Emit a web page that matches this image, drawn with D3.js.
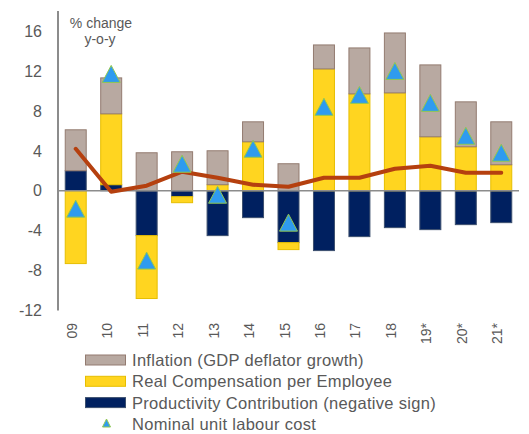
<!DOCTYPE html>
<html>
<head>
<meta charset="utf-8">
<script src="https://cdn.jsdelivr.net/npm/d3@7"></script>
<style>
  body { margin: 0; background: #fff; }
  svg { display: block; font-family: 'Liberation Sans', Arial, sans-serif; }
</style>
</head>
<body>
<div id="chart"></div>
<script>
const years = ['09', '10', '11', '12', '13', '14', '15', '16', '17', '18', '19*', '20*', '21*']
const productivity = [2.0, 0.6, -4.5, -0.6, -4.5, -2.7, -5.2, -6.0, -4.6, -3.7, -3.9, -3.4, -3.2]
const realComp = [-7.3, 7.1, -6.3, -0.6, 0.6, 4.9, -0.7, 12.2, 9.7, 9.8, 5.4, 4.4, 2.6]
const inflation = [4.1, 3.6, 3.8, 3.9, 3.4, 2.0, 2.7, 2.4, 4.6, 6.0, 7.2, 4.5, 4.3]
const nominalULC = [-1.8, 11.7, -7.0, 2.7, -0.4, 4.2, -3.2, 8.4, 9.6, 12.0, 8.8, 5.5, 3.8]
const lineValues = [4.2, -0.1, 0.5, 1.9, 1.3, 0.6, 0.4, 1.3, 1.3, 2.2, 2.5, 1.8, 1.8]
const yTicks = [-12, -8, -4, 0, 4, 8, 12, 16]

const WIDTH = 529
const HEIGHT = 434
const TEXT_COLOR = '#595959'
const TRI_FILL = '#2F9BEF'
const TRI_STROKE = '#92C84F'

const SERIES = [
  { key: 'prod', label: 'Productivity Contribution (negative sign)', fill: '#002060', stroke: '#3c4f6e' },
  { key: 'real', label: 'Real Compensation per Employee', fill: '#FFD520', stroke: '#E6BE00' },
  { key: 'infl', label: 'Inflation (GDP deflator growth)', fill: '#B8A9A1', stroke: '#937b70' }
]

// triangle marker shape, centred on its bounding box
function triangle (w, h) {
  return 'M0,' + (-h / 2) + 'L' + (w / 2) + ',' + (h / 2) + 'L' + (-w / 2) + ',' + (h / 2) + 'Z'
}

var rows = years.map((y, i) => ({ year: y, prod: productivity[i], real: realComp[i], infl: inflation[i] }))

var svg = d3.select('#chart').append('svg')
  .attr('width', WIDTH)
  .attr('height', HEIGHT)

var xScale = d3.scaleBand()
  .domain(years)
  .range([58, 519])
  .paddingInner(0.38)
  .paddingOuter(0.19)

var yScale = d3.scaleLinear()
  .domain([-12, 18])
  .range([310.5, 11])

// y tick labels (no tick marks)
svg.append('g')
  .selectAll('text')
  .data(yTicks)
  .join('text')
  .attr('x', 42)
  .attr('y', d => yScale(d))
  .attr('dy', '0.36em')
  .attr('text-anchor', 'end')
  .attr('fill', TEXT_COLOR)
  .style('font-size', '16px')
  .text(d => d)

// stacked bars
var stacked = d3.stack()
  .keys(SERIES.map(s => s.key))
  .offset(d3.stackOffsetDiverging)(rows)

var bars = svg.append('g').attr('id', 'bars')
stacked.forEach((layer, li) => {
  bars.append('g')
    .selectAll('rect')
    .data(layer)
    .join('rect')
    .attr('x', d => xScale(d.data.year) + 0.5)
    .attr('width', xScale.bandwidth() - 1)
    .attr('y', d => yScale(Math.max(d[0], d[1])))
    .attr('height', d => Math.abs(yScale(d[0]) - yScale(d[1])))
    .attr('fill', SERIES[li].fill)
    .attr('stroke', SERIES[li].stroke)
    .attr('stroke-width', 1)
})

// axes lines
svg.append('line')
  .attr('x1', 58).attr('x2', 58)
  .attr('y1', yScale(18)).attr('y2', yScale(-12))
  .attr('stroke', '#8c8c8c')
  .attr('stroke-width', 2)
svg.append('line')
  .attr('x1', 58).attr('x2', 519)
  .attr('y1', yScale(0)).attr('y2', yScale(0))
  .attr('stroke', '#8c8c8c')
  .attr('stroke-width', 1.5)

// line series
var line = d3.line()
  .x((d, i) => xScale(years[i]) + xScale.bandwidth() / 2)
  .y(d => yScale(d))
svg.append('path')
  .datum(lineValues)
  .attr('d', line)
  .attr('fill', 'none')
  .attr('stroke', '#B5400F')
  .attr('stroke-width', 4)
  .attr('stroke-linecap', 'round')
  .attr('stroke-linejoin', 'round')

// triangles for nominal ULC
svg.append('g')
  .selectAll('path')
  .data(nominalULC)
  .join('path')
  .attr('d', triangle(18, 17))
  .attr('transform', (d, i) => 'translate(' + (xScale(years[i]) + xScale.bandwidth() / 2) + ',' + yScale(d) + ')')
  .attr('fill', TRI_FILL)
  .attr('stroke', TRI_STROKE)
  .attr('stroke-width', 1)

// x labels, rotated
svg.append('g')
  .selectAll('text')
  .data(years)
  .join('text')
  .attr('transform', d => 'translate(' + (xScale(d) + xScale.bandwidth() / 2 + 1) + ',323)rotate(-90)')
  .attr('text-anchor', 'end')
  .attr('fill', TEXT_COLOR)
  .style('font-size', '14px')
  .text(d => d)

// unit annotation
var note = svg.append('text')
  .attr('fill', TEXT_COLOR)
  .style('font-size', '14px')
  .attr('text-anchor', 'middle')
note.append('tspan').attr('x', 101).attr('y', 28).text('% change')
note.append('tspan').attr('x', 100).attr('y', 44).text('y-o-y')

// legend
var legendItems = [SERIES[2], SERIES[1], SERIES[0]]
var legend = svg.append('g')
legendItems.forEach((s, i) => {
  var y = 360 + i * 21.3
  legend.append('rect')
    .attr('x', 85.5).attr('y', y - 5)
    .attr('width', 40).attr('height', 10)
    .attr('fill', s.fill)
    .attr('stroke', s.stroke)
    .attr('stroke-width', 1)
  legend.append('text')
    .attr('x', 132).attr('y', y)
    .attr('dy', '0.36em')
    .attr('fill', TEXT_COLOR)
    .style('font-size', '16.5px')
    .style('letter-spacing', '0.3px')
    .text(s.label)
})
legend.append('path')
  .attr('d', triangle(8, 8))
  .attr('transform', 'translate(106.5,423)')
  .attr('fill', TRI_FILL)
  .attr('stroke', TRI_STROKE)
  .attr('stroke-width', 1)
legend.append('text')
  .attr('x', 132).attr('y', 424)
  .attr('dy', '0.36em')
  .attr('fill', TEXT_COLOR)
  .style('font-size', '16.5px')
  .style('letter-spacing', '0.3px')
  .text('Nominal unit labour cost')
</script>
</body>
</html>
